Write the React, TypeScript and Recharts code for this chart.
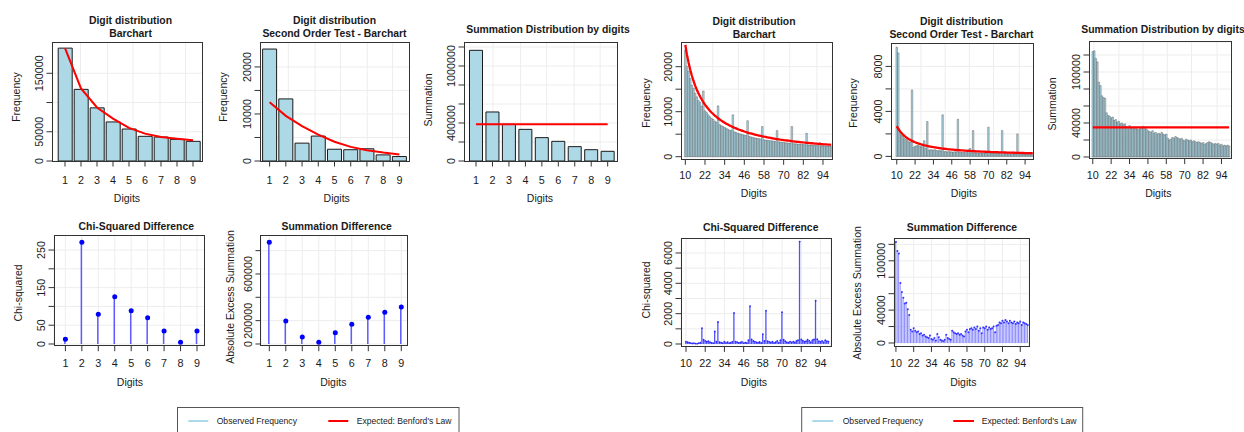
import React from 'react';
import { ComposedChart, Bar, Line, XAxis, YAxis, CartesianGrid } from 'recharts';

const FONT = '"Liberation Sans", Arial, Helvetica, sans-serif';
const TXT = '#1a1a1a';
const AX = '#333333';
const FS = 10.8;
const LS = 10.5;
const TICK = 5.5;
const LIGHTBLUE = '#add8e6';
const RED = '#ff0000';

// ---------- categories ----------
const digitsFirst = [1, 2, 3, 4, 5, 6, 7, 8, 9];
const digitsTwo = [
  10, 11, 12, 13, 14, 15, 16, 17, 18, 19, 20, 21, 22, 23, 24, 25, 26, 27, 28, 29,
  30, 31, 32, 33, 34, 35, 36, 37, 38, 39, 40, 41, 42, 43, 44, 45, 46, 47, 48, 49,
  50, 51, 52, 53, 54, 55, 56, 57, 58, 59, 60, 61, 62, 63, 64, 65, 66, 67, 68, 69,
  70, 71, 72, 73, 74, 75, 76, 77, 78, 79, 80, 81, 82, 83, 84, 85, 86, 87, 88, 89,
  90, 91, 92, 93, 94, 95, 96, 97, 98, 99,
];
const twoDigitTickLabels = [10, 22, 34, 46, 58, 70, 82, 94];

// ---------- first digit test (left) ----------
const firstObserved = [193000, 122500, 90900, 66800, 54700, 42200, 41000, 37000, 33600];
const firstExpected = [193000, 124000, 91500, 72600, 56500, 46800, 41000, 38200, 35300];
const firstSecondObserved = [23800, 13200, 3800, 5300, 2500, 2400, 2600, 1300, 950];
const firstSecondExpected = [12500, 9600, 7400, 5600, 4100, 3000, 2300, 1800, 1400];
const firstSummation = [1165000, 516000, 386000, 333000, 246000, 207000, 151000, 119000, 102000];
const firstSummationExpected = 388000;
const firstChiSquared = [12.5, 270.5, 79, 125.8, 88.6, 70, 34.6, 4.5, 34.6];
const firstSummationDiff = [871000, 197000, 60000, 14600, 97000, 169000, 229000, 272000, 317000];

// ---------- first two digits test (right) ----------
const twoObserved = [
  23700, 20100, 19000, 17400, 15900, 15200, 14100, 13300, 12500, 12100,
  11200, 14600, 10200, 9800, 9300, 8900, 8500, 8300, 7900, 7600,
  11300, 7100, 6900, 6700, 6500, 6300, 6100, 5900, 5800, 9300,
  5500, 5400, 5200, 5100, 5000, 4900, 4800, 4700, 8000, 4500,
  4400, 4300, 4200, 4150, 4050, 4000, 3900, 6700, 3750, 3700,
  3650, 3600, 3550, 3500, 3450, 3400, 5800, 3300, 3250, 3200,
  3150, 3100, 3060, 3020, 2980, 6700, 2900, 2870, 2830, 2790,
  2760, 2720, 2690, 2660, 5200, 2610, 2580, 2550, 2520, 2500,
  2480, 2450, 3100, 2420, 2400, 2380, 2350, 2330, 2300, 2280,
];
const twoExpected = [
  24840, 22670, 20860, 19310, 17980, 16820, 15800, 14890, 14090, 13370,
  12710, 12120, 11580, 11090, 10640, 10220, 9830, 9480, 9140, 8830,
  8540, 8270, 8020, 7780, 7550, 7340, 7140, 6950, 6770, 6600,
  6430, 6280, 6130, 5990, 5860, 5730, 5600, 5490, 5370, 5260,
  5160, 5060, 4960, 4870, 4780, 4700, 4610, 4530, 4450, 4380,
  4310, 4240, 4170, 4100, 4040, 3980, 3920, 3860, 3800, 3750,
  3700, 3650, 3600, 3550, 3500, 3450, 3410, 3370, 3320, 3280,
  3240, 3200, 3160, 3130, 3090, 3060, 3020, 2990, 2960, 2920,
  2890, 2860, 2830, 2800, 2770, 2750, 2720, 2690, 2670, 2640,
];
const twoSecondObserved = [
  9700, 9200, 2100, 1900, 1800, 1600, 1500, 1400, 1300, 1250,
  5900, 800, 900, 950, 1000, 900, 850, 1100, 1400, 700,
  3100, 550, 600, 580, 560, 600, 520, 500, 550, 480,
  3700, 420, 450, 400, 430, 410, 400, 380, 420, 370,
  3300, 350, 370, 340, 360, 330, 350, 600, 700, 320,
  2300, 310, 330, 300, 320, 300, 290, 310, 280, 300,
  2600, 280, 270, 290, 260, 280, 250, 270, 250, 2300,
  260, 240, 250, 230, 240, 230, 250, 220, 230, 2000,
  230, 210, 220, 200, 210, 200, 190, 200, 180, 190,
];
const twoSecondExpected = [
  2690, 2456, 2260, 2092, 1948, 1822, 1711, 1614, 1526, 1448,
  1377, 1313, 1255, 1201, 1152, 1107, 1065, 1027, 991, 957,
  926, 896, 869, 843, 818, 795, 773, 753, 733, 715,
  697, 680, 664, 649, 634, 620, 607, 594, 582, 570,
  559, 548, 538, 528, 518, 509, 500, 491, 483, 474,
  467, 459, 452, 445, 438, 431, 425, 418, 412, 406,
  401, 395, 389, 384, 379, 374, 369, 365, 360, 356,
  351, 347, 343, 339, 335, 331, 327, 324, 320, 317,
  313, 310, 307, 304, 300, 297, 294, 292, 289, 286,
];
const twoSummation = [
  124000, 125000, 116000, 112000, 88000, 84000, 72000, 70000, 69000, 52000,
  49000, 48000, 46000, 47000, 43000, 44000, 41000, 42000, 39000, 40000,
  38000, 39000, 36000, 35000, 37000, 34000, 35000, 33000, 34000, 33000,
  32000, 34000, 35000, 36000, 35000, 33000, 31000, 30000, 29000, 31000,
  28000, 29000, 27000, 28000, 27000, 29000, 27000, 26000, 27000, 22000,
  20000, 21000, 23000, 22000, 24000, 23000, 22000, 21000, 22000, 20000,
  19000, 21000, 20000, 19000, 20000, 18000, 19000, 18000, 17000, 18000,
  17000, 16000, 17000, 15000, 16000, 17000, 18000, 17000, 16000, 15000,
  16000, 15000, 16000, 14000, 15000, 13000, 14000, 13000, 14000, 13000,
];
const twoSummationExpected = 34900;
const twoChiSquared = [
  150, 120, 90, 60, 40, 50, 30, 20, 60, 90,
  1050, 280, 200, 150, 180, 120, 80, 60, 830, 150,
  1450, 120, 90, 60, 150, 80, 120, 60, 90, 140,
  2050, 160, 120, 80, 100, 140, 60, 90, 70, 250,
  2500, 300, 200, 160, 110, 90, 130, 70, 650, 200,
  2200, 180, 140, 100, 150, 80, 120, 200, 90, 250,
  2100, 280, 180, 120, 90, 160, 110, 150, 100, 200,
  250, 6750, 300, 220, 150, 180, 280, 200, 120, 250,
  300, 2850, 320, 180, 140, 200, 120, 250, 180, 160,
];
const twoSummationDiff = [
  123000, 112000, 109000, 73000, 62000, 55000, 48000, 49000, 41000, 34000,
  16000, 14000, 18000, 15000, 13000, 14000, 11000, 12000, 9000, 10000,
  8000, 7000, 6000, 9000, 5000, 4000, 6000, 3000, 11000, 7000,
  4000, 3000, 2000, 4000, 10000, 6000, 5000, 4000, 15000, 13000,
  12000, 11000, 12000, 10000, 11000, 9000, 8000, 14000, 16000, 13000,
  17000, 18000, 16000, 19000, 17000, 20000, 15000, 18000, 12000, 19000,
  18000, 20000, 16000, 19000, 17000, 18000, 20000, 13000, 21000, 22000,
  25000, 24000, 27000, 25000, 28000, 26000, 24000, 27000, 25000, 24000,
  26000, 23000, 25000, 24000, 26000, 22000, 25000, 24000, 23000, 22000,
];

// ---------- axis ticks ----------
const p1YTicks = [0, 50000, 100000, 150000];
const p1YLabels = [0, 50000, 150000];
const p2YTicks = [0, 5000, 10000, 15000, 20000];
const p2YLabels = [0, 10000, 20000];
const p3YTicks = [0, 200000, 400000, 600000, 800000, 1000000, 1200000];
const p3YLabels = [0, 400000, 1000000];
const p4YTicks = [0, 50, 100, 150, 200, 250];
const p4YLabels = [0, 50, 150, 250];
const p5YTicks = [0, 200000, 400000, 600000, 800000];
const p5YLabels = [0, 200000, 600000];
const p6YTicks = [0, 5000, 10000, 15000, 20000];
const p6YLabels = [0, 10000, 20000];
const p7YTicks = [0, 2000, 4000, 6000, 8000];
const p7YLabels = [0, 4000, 8000];
const p8YTicks = [0, 20000, 40000, 60000, 80000, 100000, 120000];
const p8YLabels = [0, 40000, 100000];
const p9YTicks = [0, 1000, 2000, 3000, 4000, 5000, 6000];
const p9YLabels = [0, 2000, 4000, 6000];
const p10YTicks = [0, 20000, 40000, 60000, 80000, 100000, 120000];
const p10YLabels = [0, 40000, 100000];

const GRID9 = [0.19, 0.37, 0.54, 0.72, 0.89];
const GRID90 = [0.035, 0.21, 0.38, 0.55, 0.72, 0.9];

const YW = 40;
const XH = 30;

type PlotProps = {
  box: number[];
  data: Record<string, number>[];
  xKey: string;
  numericX?: [number, number];
  xTicks?: number[];
  xLabels: number[];
  xPad?: [number, number];
  catGap?: number;
  yDomain: [number, number];
  yTicks: number[];
  yLabels: number[];
  xLabelDy: number;
  gridFractions?: number[];
  children: React.ReactNode;
};

function Plot(p: PlotProps) {
  const [bx, by, bw, bh] = p.box;
  const xl = new Set(p.xLabels);
  const yl = new Set(p.yLabels);
  const renderXTick = (props: any) => {
    const { x, y, payload } = props;
    const v = payload ? payload.value : null;
    if (!xl.has(v)) return <g />;
    return (
      <g>
        <line x1={x} x2={x} y1={y} y2={y + TICK} stroke={AX} strokeWidth={1} />
        <text x={x} y={y + p.xLabelDy} textAnchor="middle" dominantBaseline="central"
          fontSize={FS} fontFamily={FONT} fill={TXT}>{String(v)}</text>
      </g>
    );
  };
  const renderYTick = (props: any) => {
    const { x, y, payload } = props;
    const v = payload ? payload.value : null;
    const tx = x - 12.8;
    return (
      <g>
        <line x1={x - TICK} x2={x} y1={y} y2={y} stroke={AX} strokeWidth={1} />
        {yl.has(v) ? (
          <text x={tx} y={y} transform={`rotate(-90 ${tx} ${y})`} textAnchor="middle"
            dominantBaseline="central" fontSize={FS} fontFamily={FONT} fill={TXT}>{String(v)}</text>
        ) : null}
      </g>
    );
  };
  const fr = p.gridFractions;
  const gridGen = fr
    ? (args: any) => {
        const o = args && args.offset ? args.offset : { left: YW, width: bw };
        return fr.map((f) => o.left + f * o.width);
      }
    : undefined;
  return (
    <div style={{ position: 'absolute', left: bx - YW, top: by, width: bw + YW, height: bh + XH }}>
      <ComposedChart width={bw + YW} height={bh + XH} data={p.data}
        margin={{ top: 0, right: 0, bottom: 0, left: 0 }} barCategoryGap={p.catGap ?? 0}>
        <CartesianGrid stroke="#ededed" strokeWidth={1} verticalCoordinatesGenerator={gridGen} />
        <XAxis dataKey={p.xKey} type={p.numericX ? 'number' : 'category'} domain={p.numericX}
          ticks={p.xTicks} allowDataOverflow={!!p.numericX} interval={0} height={XH}
          tickSize={0} tickMargin={0} axisLine={false} tickLine={false} tick={renderXTick}
          padding={p.xPad ? { left: p.xPad[0], right: p.xPad[1] } : undefined} />
        <YAxis type="number" domain={p.yDomain} ticks={p.yTicks} allowDataOverflow interval={0}
          width={YW} tickSize={0} tickMargin={0} axisLine={false} tickLine={false} tick={renderYTick} />
        {p.children}
      </ComposedChart>
      <div style={{ position: 'absolute', left: YW - 0.5, top: -0.5, width: bw + 1, height: bh + 1,
        border: `1px solid ${AX}`, boxSizing: 'border-box', pointerEvents: 'none' }} />
    </div>
  );
}

function Txt({ x, y, children, size = LS, bold = false, rotate = false }:
  { x: number; y: number; children: React.ReactNode; size?: number; bold?: boolean; rotate?: boolean }) {
  return (
    <div style={{ position: 'absolute', left: x, top: y,
      transform: `translate(-50%, -50%)${rotate ? ' rotate(-90deg)' : ''}`,
      fontFamily: FONT, fontSize: size, fontWeight: bold ? 700 : 400, color: TXT,
      whiteSpace: 'nowrap', lineHeight: 1 }}>{children}</div>
  );
}

const TS = 10.4;

export default function App() {
  const r1 = digitsFirst.map((d, i) => ({ d, obs: firstObserved[i], exp: firstExpected[i] }));
  const r2 = digitsFirst.map((d, i) => ({ d, obs: firstSecondObserved[i], exp: firstSecondExpected[i] }));
  const r3 = digitsFirst.map((d, i) => ({ d, obs: firstSummation[i], exp: firstSummationExpected }));
  const r4 = digitsFirst.map((d, i) => ({ d, v: firstChiSquared[i] }));
  const r5 = digitsFirst.map((d, i) => ({ d, v: firstSummationDiff[i] }));
  const r6 = digitsTwo.map((d, i) => ({ d, obs: twoObserved[i], exp: twoExpected[i] }));
  const r7 = digitsTwo.map((d, i) => ({ d, obs: twoSecondObserved[i], exp: twoSecondExpected[i] }));
  const r8 = digitsTwo.map((d, i) => ({ d, obs: twoSummation[i], exp: twoSummationExpected }));
  const r9 = digitsTwo.map((d, i) => ({ d, v: twoChiSquared[i] }));
  const r10 = digitsTwo.map((d, i) => ({ d, v: twoSummationDiff[i] }));

  const bar9 = (
    <Bar dataKey="obs" fill={LIGHTBLUE} stroke="#1a1a1a" strokeWidth={1} isAnimationActive={false} />
  );
  const bar90 = (size: number) => (
    <Bar dataKey="obs" fill={LIGHTBLUE} stroke="#333333" strokeWidth={0.35} barSize={size} isAnimationActive={false} />
  );
  const redLine = (w: number) => (
    <Line dataKey="exp" type="linear" stroke={RED} strokeWidth={w} dot={false} activeDot={false} isAnimationActive={false} />
  );

  return (
    <div style={{ position: 'absolute', left: 0, top: 0, width: 1244, height: 432, overflow: 'hidden', background: '#ffffff' }}>
      {/* ---------------- LEFT HALF ---------------- */}
      <Plot box={[52, 42, 150, 119]} data={r1} xKey="d" xPad={[5, 1]} catGap={1.2}
        yDomain={[0, 203500]} yTicks={p1YTicks} yLabels={p1YLabels} xLabels={digitsFirst} xLabelDy={19} gridFractions={GRID9}>
        {bar9}
        {redLine(2)}
      </Plot>
      <Plot box={[260, 42, 149, 119]} data={r2} xKey="d" xPad={[1.5, 1.5]} catGap={1.1}
        yDomain={[0, 25300]} yTicks={p2YTicks} yLabels={p2YLabels} xLabels={digitsFirst} xLabelDy={19} gridFractions={GRID9}>
        {bar9}
        {redLine(2)}
      </Plot>
      <Plot box={[464.3, 42, 153, 119]} data={r3} xKey="d" xPad={[3.8, 1.1]} catGap={1.7}
        yDomain={[0, 1252600]} yTicks={p3YTicks} yLabels={p3YLabels} xLabels={digitsFirst} xLabelDy={19} gridFractions={GRID9}>
        {bar9}
        {redLine(2)}
      </Plot>
      <Plot box={[54.3, 235, 150.4, 110.7]} data={r4} xKey="d" numericX={[0.307, 9.45]} xTicks={digitsFirst}
        yDomain={[-4.5, 290]} yTicks={p4YTicks} yLabels={p4YLabels} xLabels={digitsFirst} xLabelDy={17.6}>
        <Bar dataKey="v" fill="#5c5cff" barSize={1.5} isAnimationActive={false} />
        <Line dataKey="v" stroke="none" dot={{ r: 2.5, fill: '#0000ff', stroke: 'none' }} activeDot={false} isAnimationActive={false} />
      </Plot>
      <Plot box={[260.7, 235, 146.6, 110.7]} data={r5} xKey="d" numericX={[0.497, 9.382]} xTicks={digitsFirst}
        yDomain={[-14600, 934000]} yTicks={p5YTicks} yLabels={p5YLabels} xLabels={digitsFirst} xLabelDy={17.6}>
        <Bar dataKey="v" fill="#5c5cff" barSize={1.5} isAnimationActive={false} />
        <Line dataKey="v" stroke="none" dot={{ r: 2.5, fill: '#0000ff', stroke: 'none' }} activeDot={false} isAnimationActive={false} />
      </Plot>

      <Txt x={130.5} y={20.7} size={TS} bold>Digit distribution</Txt>
      <Txt x={130.5} y={34} size={TS} bold>Barchart</Txt>
      <Txt x={334.5} y={20.7} size={TS} bold>Digit distribution</Txt>
      <Txt x={334.5} y={34} size={TS} bold>Second Order Test - Barchart</Txt>
      <Txt x={548} y={30} size={TS} bold>Summation Distribution by digits</Txt>
      <Txt x={136.3} y={226.7} size={TS} bold>Chi-Squared Difference</Txt>
      <Txt x={336.7} y={226.7} size={TS} bold>Summation Difference</Txt>

      <Txt x={15.5} y={97} rotate>Frequency</Txt>
      <Txt x={223} y={97} rotate>Frequency</Txt>
      <Txt x={428} y={100} rotate>Summation</Txt>
      <Txt x={18} y={293.3} rotate>Chi-squared</Txt>
      <Txt x={230} y={296.7} rotate>Absolute Excess Summation</Txt>

      <Txt x={127} y={198}>Digits</Txt>
      <Txt x={336.7} y={198}>Digits</Txt>
      <Txt x={540} y={198}>Digits</Txt>
      <Txt x={130} y={381.7}>Digits</Txt>
      <Txt x={333.3} y={381.7}>Digits</Txt>

      {/* ---------------- RIGHT HALF ---------------- */}
      <Plot box={[681, 42, 151, 117.3]} data={r6} xKey="d" xPad={[3.5, 0]}
        yDomain={[-578, 25489]} yTicks={p6YTicks} yLabels={p6YLabels} xLabels={twoDigitTickLabels} xLabelDy={15.7} gridFractions={GRID90}>
        {bar90((151 - 3.5) / 90 - 0.02)}
        {redLine(2.3)}
      </Plot>
      <Plot box={[891, 43.3, 142.5, 116]} data={r7} xKey="d" xPad={[5, 0]}
        yDomain={[-231, 10080]} yTicks={p7YTicks} yLabels={p7YLabels} xLabels={twoDigitTickLabels} xLabelDy={15.7} gridFractions={GRID90}>
        {bar90((142.5 - 5) / 90 - 0.02)}
        {redLine(2.3)}
      </Plot>
      <Plot box={[1089.3, 41.7, 142.4, 116.6]} data={r8} xKey="d" xPad={[3, 1.5]}
        yDomain={[-1882, 135300]} yTicks={p8YTicks} yLabels={p8YLabels} xLabels={twoDigitTickLabels} xLabelDy={16.7} gridFractions={GRID90}>
        {bar90((142.4 - 4.5) / 90 - 0.02)}
        {redLine(2.3)}
      </Plot>
      <Plot box={[681, 238.3, 150, 108.4]} data={r9} xKey="d" numericX={[6.875, 100.56]} xTicks={twoDigitTickLabels}
        yDomain={[-158, 6988]} yTicks={p9YTicks} yLabels={p9YLabels} xLabels={twoDigitTickLabels} xLabelDy={16.6}>
        <Bar dataKey="v" fill="#5050ff" barSize={1.3} isAnimationActive={false} />
        <Line dataKey="v" stroke="none" dot={{ r: 0.9, fill: '#2a2aff', stroke: 'none' }} activeDot={false} isAnimationActive={false} />
      </Plot>
      <Plot box={[894.3, 238.3, 135, 108.4]} data={r10} xKey="d" numericX={[8.7, 99.9]} xTicks={twoDigitTickLabels}
        yDomain={[-4136, 127740]} yTicks={p10YTicks} yLabels={p10YLabels} xLabels={twoDigitTickLabels} xLabelDy={16.6}>
        <Bar dataKey="v" fill="#8a8aff" barSize={1} isAnimationActive={false} />
        <Line dataKey="v" stroke="none" dot={{ r: 1, fill: '#3333ff', stroke: 'none' }} activeDot={false} isAnimationActive={false} />
      </Plot>

      <Txt x={754} y={21.7} size={TS} bold>Digit distribution</Txt>
      <Txt x={754} y={35} size={TS} bold>Barchart</Txt>
      <Txt x={961.5} y={21.7} size={TS} bold>Digit distribution</Txt>
      <Txt x={961.5} y={35} size={TS} bold>Second Order Test - Barchart</Txt>
      <Txt x={1163} y={30} size={TS} bold>Summation Distribution by digits</Txt>
      <Txt x={760.7} y={228.3} size={TS} bold>Chi-Squared Difference</Txt>
      <Txt x={962} y={228.3} size={TS} bold>Summation Difference</Txt>

      <Txt x={645.5} y={103} rotate>Frequency</Txt>
      <Txt x={853} y={103.3} rotate>Frequency</Txt>
      <Txt x={1052} y={104} rotate>Summation</Txt>
      <Txt x={645.5} y={290} rotate>Chi-squared</Txt>
      <Txt x={857} y={293.3} rotate>Absolute Excess Summation</Txt>

      <Txt x={754} y={193.3}>Digits</Txt>
      <Txt x={964} y={193.3}>Digits</Txt>
      <Txt x={1158.3} y={193.3}>Digits</Txt>
      <Txt x={754} y={381.7}>Digits</Txt>
      <Txt x={963.3} y={381.7}>Digits</Txt>

      {/* ---------------- LEGENDS ---------------- */}
      <svg width={1244} height={432} style={{ position: 'absolute', left: 0, top: 0, pointerEvents: 'none' }}>
        <rect x={177.5} y={407.5} width={281.5} height={40} fill="none" stroke="#555555" strokeWidth={1} />
        <line x1={188.3} x2={208.3} y1={421} y2={421} stroke={LIGHTBLUE} strokeWidth={2} />
        <text x={216.7} y={421} dominantBaseline="central" fontSize={8.6} fontFamily={FONT} fill={TXT}>Observed Frequency</text>
        <line x1={328.3} x2={348.3} y1={421} y2={421} stroke={RED} strokeWidth={2} />
        <text x={356.7} y={421} dominantBaseline="central" fontSize={8.6} fontFamily={FONT} fill={TXT}>Expected: Benford's Law</text>

        <rect x={801.7} y={407.5} width={281} height={40} fill="none" stroke="#555555" strokeWidth={1} />
        <line x1={812.3} x2={833.3} y1={421} y2={421} stroke={LIGHTBLUE} strokeWidth={2} />
        <text x={842.7} y={421} dominantBaseline="central" fontSize={8.6} fontFamily={FONT} fill={TXT}>Observed Frequency</text>
        <line x1={953.3} x2={974} y1={421} y2={421} stroke={RED} strokeWidth={2} />
        <text x={981.7} y={421} dominantBaseline="central" fontSize={8.6} fontFamily={FONT} fill={TXT}>Expected: Benford's Law</text>
      </svg>
    </div>
  );
}
